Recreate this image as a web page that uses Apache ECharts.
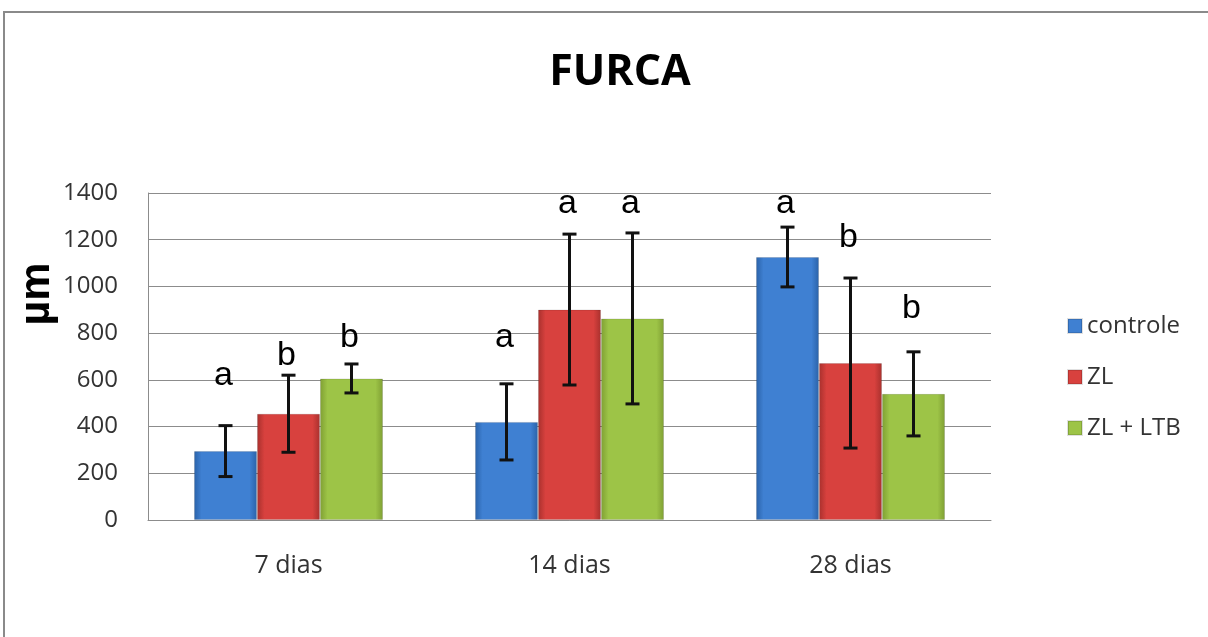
<!DOCTYPE html>
<html>
<head>
<meta charset="utf-8">
<script src="https://cdn.jsdelivr.net/npm/echarts@6/dist/echarts.min.js"></script>
<style>html,body{margin:0;padding:0;background:#fff}#c{width:1208px;height:637px}</style>
</head>
<body>
<div id="c"></div>
<script>
const categories = ['7 dias', '14 dias', '28 dias'];
const seriesNames = ['controle', 'ZL', 'ZL + LTB'];
const controle = [295, 420, 1126];
const zl = [455, 901, 672];
const zlLtb = [606, 863, 540];
const errControle = [109, 163, 128];
const errZl = [165, 323, 364];
const errZlLtb = [62, 366, 180];
const lettersControle = ['a', 'a', 'a'];
const lettersZl = ['b', 'a', 'b'];
const lettersZlLtb = ['b', 'a', 'b'];
const letterBaseControle = [578, 741, 1314];
const letterBaseZl = [664, 1314, 1169];
const letterBaseZlLtb = [741, 1314, 865];
const yTicks = [0, 200, 400, 600, 800, 1000, 1200, 1400];

const means = [controle, zl, zlLtb];
const errs = [errControle, errZl, errZlLtb];
const letters = [lettersControle, lettersZl, lettersZlLtb];
const letterBase = [letterBaseControle, letterBaseZl, letterBaseZlLtb];

function grad(dark, light) {
  return new echarts.graphic.LinearGradient(0, 0, 1, 0, [
    {offset: 0, color: dark}, {offset: 0.12, color: light},
    {offset: 0.88, color: light}, {offset: 1, color: dark}
  ]);
}
const colors = [
  grad('#2a62a8', '#3f80d2'),
  grad('#a8302d', '#d8413e'),
  grad('#7f9f33', '#9dc447')
];
const BAR_W = 63;

const barSeries = means.map((arr, i) => ({
  name: seriesNames[i],
  type: 'bar',
  data: arr,
  barWidth: BAR_W,
  barGap: '0%',
  itemStyle: {color: colors[i], borderColor: 'rgba(0,0,0,0.12)', borderWidth: 1},
  z: 2
}));

const errSeries = means.map((arr, i) => ({
  type: 'custom',
  name: seriesNames[i] + ' err',
  data: arr.map((m, k) => [k, m - errs[i][k], m + errs[i][k]]),
  z: 5,
  silent: true,
  renderItem: function (params, api) {
    const k = api.value(0);
    const lo = api.coord([k, api.value(1)]);
    const hi = api.coord([k, api.value(2)]);
    const x = lo[0] + (i - 1) * BAR_W;
    const cap = 7;
    const st = {stroke: '#111', lineWidth: 3};
    return {type: 'group', children: [
      {type: 'line', shape: {x1: x, y1: lo[1], x2: x, y2: hi[1]}, style: st},
      {type: 'line', shape: {x1: x - cap, y1: lo[1], x2: x + cap, y2: lo[1]}, style: st},
      {type: 'line', shape: {x1: x - cap, y1: hi[1], x2: x + cap, y2: hi[1]}, style: st}
    ]};
  }
}));

const letterSeries = means.map((arr, i) => ({
  type: 'custom',
  name: seriesNames[i] + ' sig',
  data: arr.map((m, k) => [k, letterBase[i][k]]),
  z: 6,
  silent: true,
  renderItem: function (params, api) {
    const k = api.value(0);
    const p = api.coord([k, api.value(1)]);
    return {type: 'text', x: p[0] + (i - 1) * BAR_W - 2, y: p[1] + 8,
      style: {text: letters[i][k], fill: '#000', font: '34px "Liberation Sans", Arial, sans-serif',
        align: 'center', verticalAlign: 'bottom'}};
  }
}));

const chart = echarts.init(document.getElementById('c'), null, {renderer: 'canvas'});
chart.setOption({
  animation: false,
  backgroundColor: '#fff',
  title: {
    text: 'FURCA', left: 615, top: 46, textAlign: 'center',
    textStyle: {fontFamily: 'Open Sans', fontWeight: 'bold', fontSize: 43, color: '#000'}
  },
  graphic: [
    {type: 'rect', shape: {x: 4, y: 12, width: 1220, height: 660},
      style: {fill: 'none', stroke: '#8a8a8a', lineWidth: 2}, z: -1, silent: true},
    {type: 'text', x: 37, y: 294, rotation: Math.PI / 2,
      style: {text: 'µm', font: 'bold 43px "Liberation Sans", Arial, sans-serif', fill: '#000',
        align: 'center', verticalAlign: 'middle'}}
  ],
  legend: {
    data: seriesNames,
    orient: 'vertical',
    left: 1062, top: 309,
    itemWidth: 14, itemHeight: 14, itemGap: 27,
    icon: 'rect',
    textStyle: {fontFamily: 'Open Sans', fontSize: 24, color: '#333'}
  },
  grid: {left: 148, right: 217, top: 193, bottom: 117, containLabel: false},
  xAxis: {
    type: 'category', data: categories,
    axisLine: {lineStyle: {color: '#8c8c8c', width: 1}},
    axisTick: {show: false},
    axisLabel: {fontFamily: 'Open Sans', fontSize: 25, color: '#333', margin: 33}
  },
  yAxis: {
    type: 'value', min: 0, max: 1400, interval: 200,
    axisLine: {show: true, lineStyle: {color: '#8c8c8c', width: 1}},
    axisTick: {show: false},
    splitLine: {lineStyle: {color: '#8c8c8c', width: 1}},
    axisLabel: {fontFamily: 'Open Sans', fontSize: 24, color: '#333', margin: 30,
      formatter: v => yTicks.includes(v) ? String(v) : ''}
  },
  series: [...barSeries, ...errSeries, ...letterSeries]
});
</script>
</body>
</html>
